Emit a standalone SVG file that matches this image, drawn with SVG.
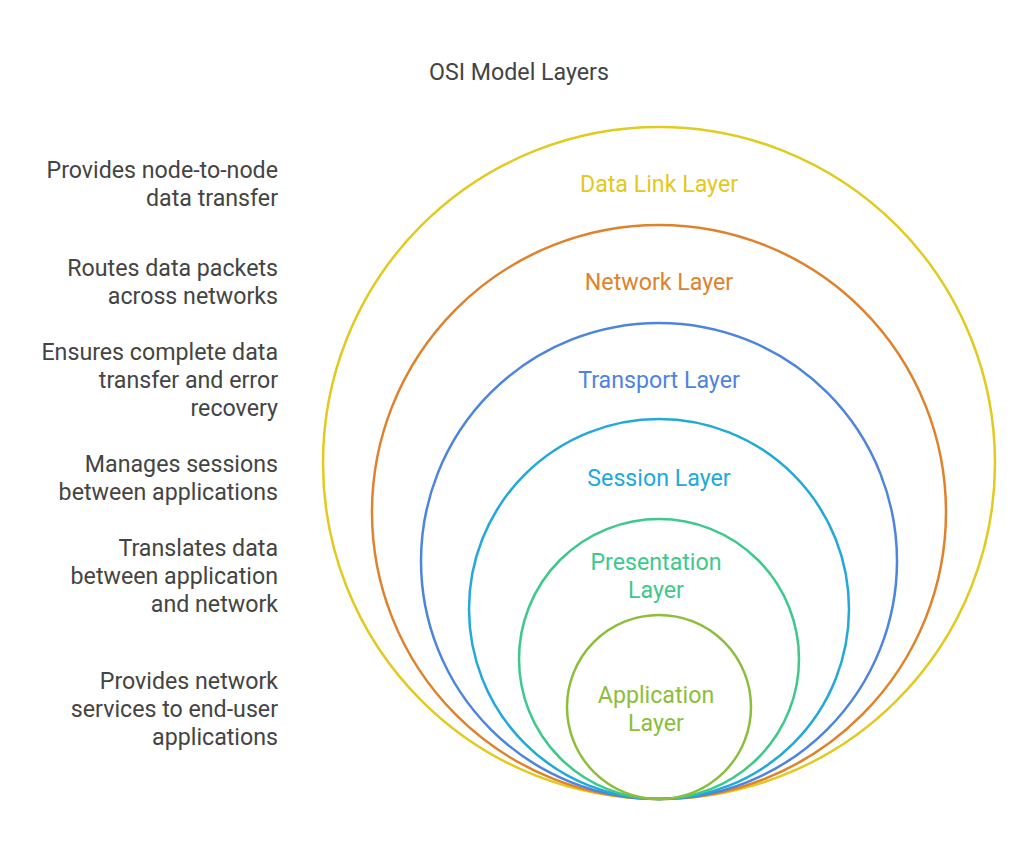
<svg xmlns="http://www.w3.org/2000/svg" width="1024" height="857" viewBox="0 0 1024 857">
<style>
text{font-family:Roboto,"Liberation Sans",sans-serif;font-size:23.2px}
.d{fill:#444444;text-anchor:end}
.l{text-anchor:middle}
circle{fill:none;stroke-width:2.5}
</style>
<rect width="1024" height="857" fill="#ffffff"/>
<text x="519" y="80" class="l" fill="#444444">OSI Model Layers</text>
<g id="datalink">
<circle cx="659" cy="463" r="336" stroke="#e3ca1f"/>
<text x="659" y="192" class="l" fill="#e3c820">Data Link Layer</text>
</g>
<g id="network">
<circle cx="659" cy="512" r="287" stroke="#e0822c"/>
<text x="659" y="290" class="l" fill="#e0822c">Network Layer</text>
</g>
<g id="transport">
<circle cx="659" cy="561" r="238" stroke="#4d84e0"/>
<text x="659" y="388" class="l" fill="#4d84e0">Transport Layer</text>
</g>
<g id="session">
<circle cx="659" cy="609" r="190" stroke="#22a9da"/>
<text x="659" y="486" class="l" fill="#22a9da">Session Layer</text>
</g>
<g id="presentation">
<circle cx="659" cy="659" r="140" stroke="#3ec98b"/>
<text x="656" y="570" class="l" fill="#3ec98b">Presentation</text>
<text x="656" y="598" class="l" fill="#3ec98b">Layer</text>
</g>
<g id="application">
<circle cx="659" cy="707" r="92" stroke="#8cbe3b"/>
<text x="656" y="703" class="l" fill="#8cbe3b">Application</text>
<text x="656" y="731" class="l" fill="#8cbe3b">Layer</text>
</g>
<g id="descriptions">
<text x="278" y="178" class="d">Provides node-to-node</text>
<text x="278" y="206" class="d">data transfer</text>
<text x="278" y="276" class="d">Routes data packets</text>
<text x="278" y="304" class="d">across networks</text>
<text x="278" y="360" class="d">Ensures complete data</text>
<text x="278" y="388" class="d">transfer and error</text>
<text x="278" y="416" class="d">recovery</text>
<text x="278" y="472" class="d">Manages sessions</text>
<text x="278" y="500" class="d">between applications</text>
<text x="278" y="556" class="d">Translates data</text>
<text x="278" y="584" class="d">between application</text>
<text x="278" y="612" class="d">and network</text>
<text x="278" y="689" class="d">Provides network</text>
<text x="278" y="717" class="d">services to end-user</text>
<text x="278" y="745" class="d">applications</text>
</g>
<g id="connectors"></g>
</svg>
